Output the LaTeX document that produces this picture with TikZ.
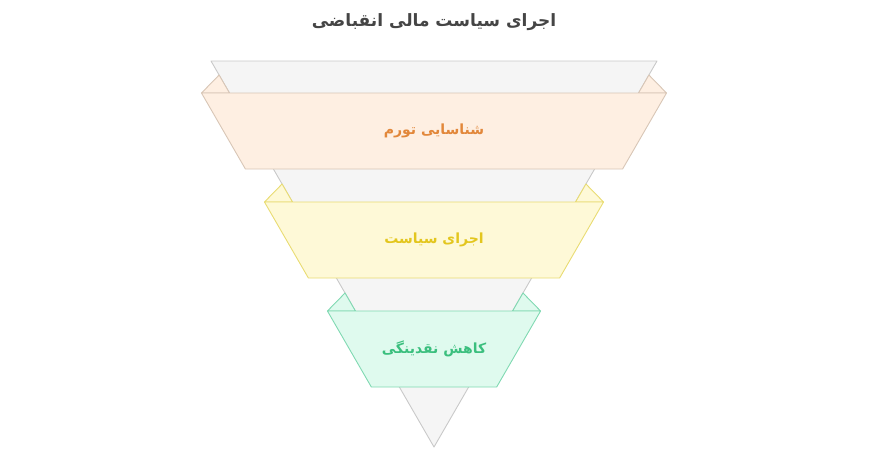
\documentclass[tikz,border=0pt]{standalone}
\usepackage{fontspec}
\newfontfamily\arabicfont[Script=Arabic]{DejaVu Sans}
\TeXXeTstate=1
\usetikzlibrary{calc}

\definecolor{funnelFill}{HTML}{F5F5F5}
\definecolor{funnelLine}{HTML}{C9C9C9}
\definecolor{orangeFill}{HTML}{FEEFE2}
\definecolor{orangeLine}{HTML}{D8C6B6}
\definecolor{orangeText}{HTML}{E2873A}
\definecolor{yellowFill}{HTML}{FEF9D7}
\definecolor{yellowLine}{HTML}{E9DC72}
\definecolor{yellowText}{HTML}{E3C61E}
\definecolor{greenFill}{HTML}{DFFAEE}
\definecolor{greenLine}{HTML}{80D9B2}
\definecolor{greenText}{HTML}{3BBF7E}
\definecolor{titleText}{HTML}{454545}

\tikzset{
  funnel/.style = {fill = funnelFill, draw = funnelLine, line width = 0.9pt, line join = round},
  bandtext/.style = {font = \arabicfont\bfseries\fontsize{14}{16}\selectfont},
}

\begin{document}
\begin{tikzpicture}[x = 1pt, y = -1pt]
  \useasboundingbox (0, 0) rectangle (870, 464);
  \node[text = titleText, font = \arabicfont\bfseries\fontsize{17}{20}\selectfont] (title) at (434, 22) {\beginR اجرای سیاست مالی انقباضی\endR};
  % grey funnel behind the bands
  \draw[funnel] (211, 61) -- (657, 61) -- (434, 447) -- cycle;
  \foreach \yt/\bandc/\nm/\txt in {93/orange/inflation/شناسایی تورم, 202/yellow/policy/اجرای سیاست, 311/green/liquidity/کاهش نقدینگی}{
    \pgfmathsetmacro\topw{(447 - \yt)*0.5777}
    \pgfmathsetmacro\wingw{(447 - \yt + 18)*0.5777}
    \pgfmathsetmacro\botw{(447 - \yt - 76)*0.5777}
    % folded wings
    \draw[fill = \bandc Fill, draw = \bandc Line, line width = 0.9pt, line join = round]
      ({434 - \topw - 28}, \yt) -- ({434 - \wingw}, {\yt - 18}) -- ({434 - \topw}, \yt) -- cycle;
    \draw[fill = \bandc Fill, draw = \bandc Line, line width = 0.9pt, line join = round]
      ({434 + \topw + 28}, \yt) -- ({434 + \wingw}, {\yt - 18}) -- ({434 + \topw}, \yt) -- cycle;
    % band
    \draw[fill = \bandc Fill, draw = \bandc Line, line width = 0.9pt, line join = round]
      ({434 - \topw - 28}, \yt) -- ({434 + \topw + 28}, \yt) -- ({434 + \botw + 28}, {\yt + 76}) -- ({434 - \botw - 28}, {\yt + 76}) -- cycle;
    \node[bandtext, text = \bandc Text] (\nm) at (434, {\yt + 38}) {\beginR\txt\endR};
  }
\end{tikzpicture}
\end{document}
